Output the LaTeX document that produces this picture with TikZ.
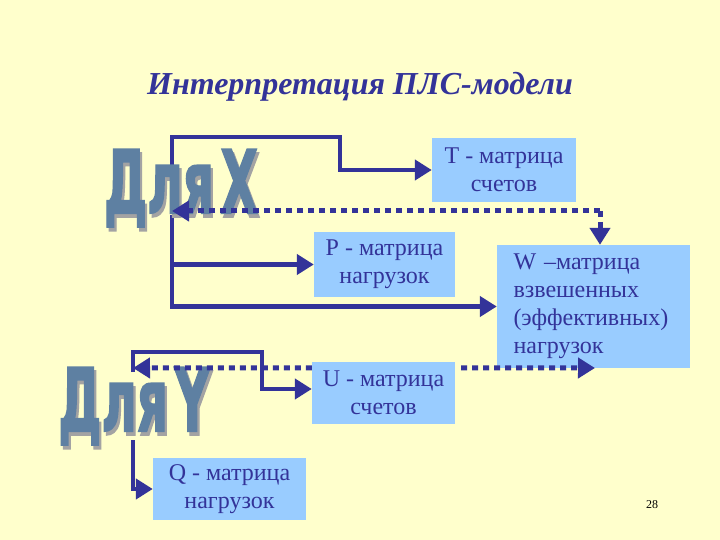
\documentclass[tikz,border=0pt]{standalone}
\usepackage{fontspec}
\setmainfont{Liberation Serif}
\newfontfamily\artfont[FakeBold=2]{DejaVu Sans Condensed}
\usetikzlibrary{arrows.meta}
\definecolor{slidebg}{HTML}{FFFFCC}
\definecolor{boxfill}{HTML}{99CCFF}
\definecolor{inkblue}{HTML}{333399}
\definecolor{artsteel}{HTML}{5E80A2}
\definecolor{artshade}{HTML}{A3A3A3}
% word art: steel letters over a grey shadow, in one box
\newcommand{\arttext}[1]{%
    \scalebox{0.9}[1.46]{\artfont\bfseries\fontsize{60}{60}\selectfont
        \makebox[0pt][l]{\hspace{2.5pt}\raisebox{-2.5pt}{\color{artshade}#1}}#1}%
}
\tikzset{
    mbox/.style={fill=boxfill, text=inkblue, font=\fontsize{24}{28}\selectfont, align=center, inner sep=0pt},
    link/.style={draw=inkblue, line width=4.5pt},
    dotlink/.style={draw=inkblue, line width=5pt, dash pattern=on 6pt off 5pt},
    tip/.style={-{Triangle[length=17pt,width=20pt]}},
    wordart/.style={inner sep=0pt, text=artsteel},
}

\begin{document}
\begin{tikzpicture}[x=1pt, y=-1pt]
    \fill[slidebg] (0,0) rectangle (720,540);
    \useasboundingbox (0,0) rectangle (720,540);
    % --- title ---
    \node[font=\fontsize{32}{38}\selectfont\bfseries\itshape, text=inkblue] (title) at (360,87) {Интерпретация ПЛС-модели};
    % --- matrix boxes ---
    \node[mbox, minimum width=144pt, minimum height=64pt] (tbox) at (504,170) {T - матрица\\счетов};
    \node[mbox, minimum width=141pt, minimum height=65pt] (pbox) at (384.5,264.5) {P - матрица\\нагрузок};
    \node[mbox, align=left, text width=160pt, inner xsep=16.5pt, minimum height=123pt] (wbox) at (593.5,306.5) {W –матрица\\взвешенных\\(эффективных)\\нагрузок};
    \node[mbox, minimum width=143pt, minimum height=62pt] (ubox) at (383.5,393) {U - матрица\\счетов};
    \node[mbox, minimum width=153pt, minimum height=62pt] (qbox) at (229.5,489) {Q - матрица\\нагрузок};
    % --- solid links (behind the word art) ---
    \coordinate (xup) at (172,200);
    \coordinate (xdown) at (172,215);
    \coordinate (xbend) at (340,137);
    \coordinate (yup) at (133,372);
    \coordinate (ybend) at (262,352);
    \coordinate (ydown) at (133,440);
    \draw[link, tip] (xup) |- (xbend) |- (tbox.west);
    \draw[link, tip] (xdown) |- (wbox.west);
    \draw[link, tip] (xdown |- pbox.west) -- (pbox.west);
    \draw[link, tip] (yup) |- (ybend) |- ([yshift=4pt]ubox.west);
    \draw[link, tip] (ydown) |- (qbox.west);
    % --- word art ---
    \node[wordart] (forx) at (181,190) {\arttext{Для\hspace{0.12em}X}};
    \node[wordart] (fory) at (134,408) {\arttext{Для\hspace{0.12em}Y}};
    % --- dotted links ---
    \coordinate (tcorner) at (600,211);
    \coordinate (warrow) at (595,368);
    \draw[dotlink, tip] (tcorner) -- (tcorner -| xup);
    \draw[dotlink, tip] (tcorner) -- (tcorner |- wbox.north);
    \draw[dotlink, tip] ([yshift=-6pt]ubox.north west) -- (yup |- warrow);
    \draw[dotlink, tip] ([xshift=6pt, yshift=-6pt]ubox.north east) -- (warrow);
    % --- page number ---
    \node[font=\fontsize{12}{14}\selectfont] (pagenum) at (652,505) {28};
\end{tikzpicture}
\end{document}
